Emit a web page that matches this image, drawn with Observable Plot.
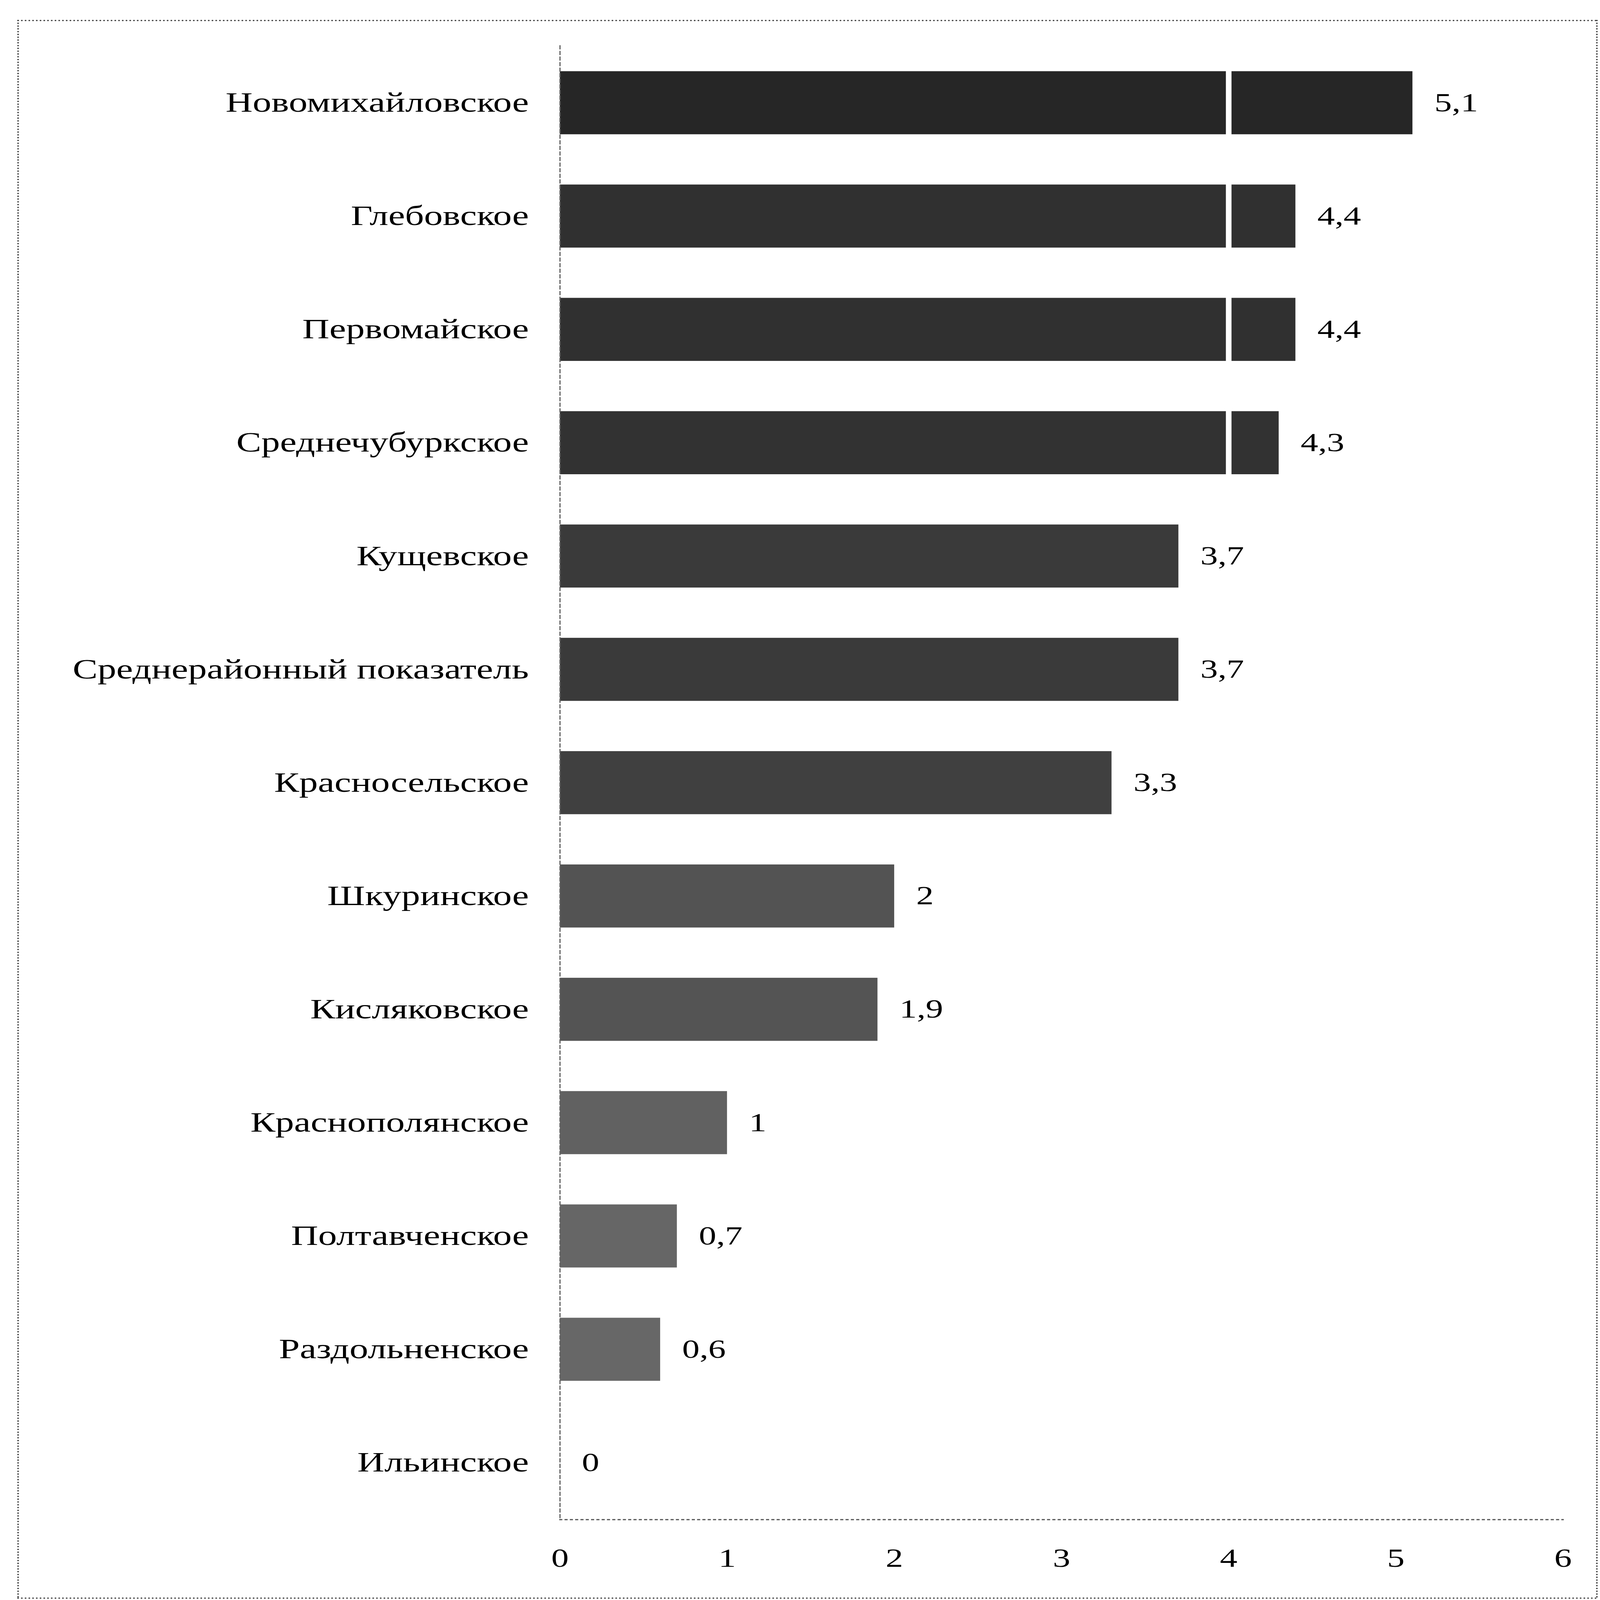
<!DOCTYPE html>
<html>
<head>
<meta charset="utf-8">
<script src="https://cdn.jsdelivr.net/npm/d3@7"></script>
<script src="https://cdn.jsdelivr.net/npm/@observablehq/plot@0.6"></script>
<style>
  html, body { margin: 0; padding: 0; background: #fff; overflow: hidden; }
  #wrap { position: absolute; left: 0; top: 0; width: 5130px; height: 6876px; transform-origin: 0 0; }
  #border { position: absolute; left: 55px; top: 85px; width: 5068px; height: 6786px;
            border: 6px dotted #444; box-sizing: border-box; pointer-events: none; }
  #chart { position: absolute; left: 0; top: 0; }
</style>
</head>
<body>
<div id="wrap"><div id="chart"></div><div id="border"></div></div>
<script>
const categories = [
  "Новомихайловское",
  "Глебовское",
  "Первомайское",
  "Среднечубуркское",
  "Кущевское",
  "Среднерайонный показатель",
  "Красносельское",
  "Шкуринское",
  "Кисляковское",
  "Краснополянское",
  "Полтавченское",
  "Раздольненское",
  "Ильинское"
];
const values = [5.1, 4.4, 4.4, 4.3, 3.7, 3.7, 3.3, 2, 1.9, 1, 0.7, 0.6, 0];
const xTicks = [0, 1, 2, 3, 4, 5, 6];
const gridBreak = [4];

const data = categories.map((name, i) => ({name, value: values[i]}));
const fmt = v => String(v).replace(".", ",");

// Lay the chart out at the reference size, then fit it to the actual window.
const W = window.innerWidth || 5130;
const H = window.innerHeight || 6876;
document.getElementById("wrap").style.transform = `scale(${W / 5130}, ${H / 6876})`;

const chart = Plot.plot({
  width: 5130,
  height: 6876,
  marginTop: 196,
  marginBottom: 346,
  marginLeft: 1795,
  marginRight: 119,
  style: {fontFamily: "'Liberation Serif', 'DejaVu Serif', serif", fontSize: "112px", color: "#000", background: "transparent", overflow: "visible"},
  x: {domain: [0, 6], label: null},
  y: {domain: categories, padding: 0, label: null},
  color: {type: "linear", domain: [0, 5.1], range: ["#707070", "#262626"]},
  marks: [
    Plot.barX(data, {x: "value", y: "name", fill: "value", insetTop: 108, insetBottom: 108}),
    Plot.ruleX(gridBreak, {stroke: "#fff", strokeWidth: 18}),
    Plot.frame({anchor: "left", stroke: "#666", strokeWidth: 4, strokeDasharray: "14,10"}),
    Plot.frame({anchor: "bottom", stroke: "#555", strokeWidth: 5, strokeDasharray: "5,12"}),
    Plot.axisY({tickSize: 0, tickPadding: 100, fontSize: 120, label: null}),
    Plot.axisX({ticks: xTicks, tickSize: 0, tickPadding: 123, fontSize: 112, label: null, tickFormat: fmt}),
    Plot.text(data, {x: "value", y: "name", text: d => fmt(d.value), dx: 70, textAnchor: "start", fill: "#000", fontSize: 112})
  ]
});
document.getElementById("chart").appendChild(chart);
</script>
</body>
</html>
